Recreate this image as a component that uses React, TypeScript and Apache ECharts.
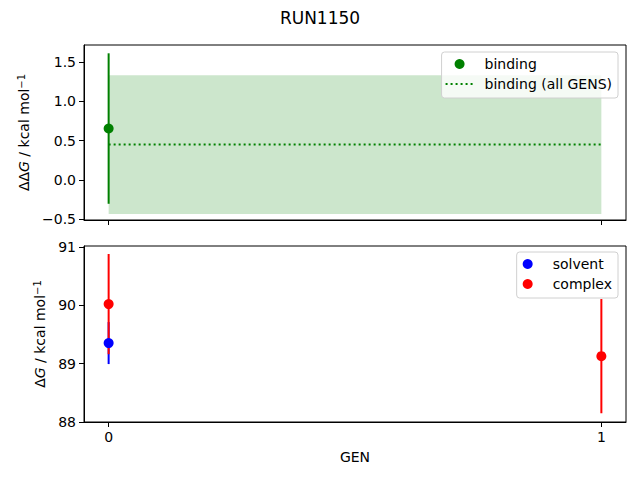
import React, { useEffect, useRef } from 'react'
import * as echarts from 'echarts'

// GEN index per point
const gens = [0, 1]

// top panel: binding free energy (kcal/mol)
const bindingGens = [0]
const bindingValues = [0.654]
const bindingErrors = [0.96]
const bindingAll = 0.449
const bindingAllError = 0.885

// bottom panel: solvent / complex free energies
const solventGens = [0]
const solventValues = [89.354]
const solventErrors = [0.36]
const complexGens = [0, 1]
const complexValues = [90.023, 89.13]
const complexErrors = [0.86, 0.98]

const topTicks = [-0.5, 0, 0.5, 1, 1.5]
const bottomTicks = [88, 89, 90, 91]

const FONT = 'DejaVu Sans'

const fmtMinus = (v: number, d: number) => v.toFixed(d).replace('-', '\u2212')

const errorBarSeries = (name: string, xIdx: number, xs: number[], ys: number[], es: number[], color: string) => ({
  name,
  type: 'custom',
  xAxisIndex: xIdx,
  yAxisIndex: xIdx,
  z: 2,
  silent: true,
  data: xs.map((x, i) => [x, ys[i] - es[i], ys[i] + es[i]]),
  renderItem: (_params: any, api: any) => {
    const lo = api.coord([api.value(0), api.value(1)])
    const hi = api.coord([api.value(0), api.value(2)])
    return {
      type: 'line',
      shape: { x1: lo[0], y1: lo[1], x2: hi[0], y2: hi[1] },
      style: { stroke: color, lineWidth: 2 }
    }
  }
})

const scatterSeries = (name: string, idx: number, xs: number[], ys: number[], color: string) => ({
  name,
  type: 'scatter',
  xAxisIndex: idx,
  yAxisIndex: idx,
  z: 4,
  symbol: 'circle',
  symbolSize: 10,
  itemStyle: { color, opacity: 1 },
  data: xs.map((x, i) => [x, ys[i]])
})

const xAxisBase = (idx: number, showLabels: boolean) => ({
  type: 'value',
  gridIndex: idx,
  min: -0.05,
  max: 1.05,
  name: showLabels ? 'GEN' : '',
  nameLocation: 'middle',
  nameGap: 28,
  nameTextStyle: { color: '#000', fontFamily: FONT, fontSize: 14 },
  axisLine: { show: true, onZero: false, lineStyle: { color: '#000', width: 1 } },
  axisTick: { show: true, length: 5, customValues: gens, lineStyle: { color: '#000' } },
  axisLabel: {
    show: showLabels,
    customValues: gens,
    color: '#000',
    fontFamily: FONT,
    fontSize: 14,
    margin: 8,
    formatter: (v: number) => String(v)
  },
  splitLine: { show: false }
})

const yAxisBase = (idx: number, min: number, max: number, ticks: number[], digits: number, nameRich: string, nameGap: number) => ({
  type: 'value',
  gridIndex: idx,
  min,
  max,
  name: nameRich,
  nameLocation: 'middle',
  nameRotate: 90,
  nameGap,
  nameTextStyle: {
    color: '#000',
    fontFamily: FONT,
    fontSize: 14,
    rich: {
      a: { fontFamily: FONT, fontSize: 14, color: '#000' },
      i: { fontFamily: FONT, fontSize: 14, fontStyle: 'italic', color: '#000' },
      s: { fontFamily: FONT, fontSize: 10, color: '#000', verticalAlign: 'top', padding: [0, 0, 6, 0] }
    }
  },
  axisLine: { show: true, onZero: false, lineStyle: { color: '#000', width: 1 } },
  axisTick: { show: true, length: 5, customValues: ticks, lineStyle: { color: '#000' } },
  axisLabel: {
    customValues: ticks,
    color: '#000',
    fontFamily: FONT,
    fontSize: 14,
    margin: 8,
    formatter: (v: number) => fmtMinus(v, digits)
  },
  splitLine: { show: false }
})

const legendBase = (top: number, padding: number[], data: any[]) => ({
  orient: 'vertical',
  right: 22,
  top,
  padding,
  itemGap: 6,
  itemWidth: 28,
  itemHeight: 10,
  backgroundColor: 'rgba(255,255,255,0.8)',
  borderColor: '#d0d0d0',
  borderWidth: 1,
  borderRadius: 3,
  textStyle: { fontFamily: FONT, fontSize: 14, color: '#000', padding: [0, 0, 0, 6] },
  data
})

export default function App() {
  const chartRef: any = useRef()

  useEffect(() => {
    const myChart = echarts.init(chartRef.current, null, { renderer: 'svg' })
    const option = {
      animation: false,
      backgroundColor: '#fff',
      textStyle: { fontFamily: FONT },
      title: {
        text: 'RUN1150',
        left: 'center',
        top: 4,
        textStyle: { fontFamily: FONT, fontSize: 17, fontWeight: 'normal', color: '#000' }
      },
      grid: [
        { left: 84, top: 45, width: 542, height: 175, show: true, borderColor: '#000', borderWidth: 1, backgroundColor: 'transparent' },
        { left: 84, top: 246, width: 542, height: 176, show: true, borderColor: '#000', borderWidth: 1, backgroundColor: 'transparent' }
      ],
      xAxis: [xAxisBase(0, false), xAxisBase(1, true)],
      yAxis: [
        yAxisBase(0, -0.513, 1.72, topTicks, 1, '{a|ΔΔ}{i|G}{a| / kcal mol}{s|−1}', 44),
        yAxisBase(1, 88, 91.02, bottomTicks, 0, '{a|Δ}{i|G}{a| / kcal mol}{s|−1}', 31)
      ],
      legend: [
        legendBase(52, [5, 6, 7, 3], [
          { name: 'binding', icon: 'circle' },
          { name: 'binding (all GENS)', itemStyle: { color: 'rgba(0,0,0,0)', borderWidth: 0 } }
        ]),
        legendBase(252, [5, 6, 7, 6], [
          { name: 'solvent', icon: 'circle' },
          { name: 'complex', icon: 'circle' }
        ])
      ],
      series: [
        {
          name: 'binding (all GENS)',
          type: 'line',
          xAxisIndex: 0,
          yAxisIndex: 0,
          z: 3,
          symbol: 'none',
          silent: true,
          color: '#008000',
          lineStyle: { color: '#008000', width: 2, type: [2, 3] },
          data: gens.map((g) => [g, bindingAll]),
          markArea: {
            silent: true,
            itemStyle: { color: 'rgba(0,128,0,0.2)' },
            data: [
              [
                { coord: [gens[0], bindingAll - bindingAllError] },
                { coord: [gens[gens.length - 1], bindingAll + bindingAllError] }
              ]
            ]
          }
        },
        errorBarSeries('binding-err', 0, bindingGens, bindingValues, bindingErrors, '#008000'),
        scatterSeries('binding', 0, bindingGens, bindingValues, '#008000'),
        errorBarSeries('solvent-err', 1, solventGens, solventValues, solventErrors, '#0000ff'),
        errorBarSeries('complex-err', 1, complexGens, complexValues, complexErrors, '#ff0000'),
        scatterSeries('solvent', 1, solventGens, solventValues, '#0000ff'),
        scatterSeries('complex', 1, complexGens, complexValues, '#ff0000')
      ]
    }
    myChart.setOption(option as any)
    return () => {
      myChart.dispose()
    }
  }, [])

  return <div ref={chartRef} style={{ position: 'absolute', left: 0, top: 0, width: '640px', height: '480px' }} />
}
